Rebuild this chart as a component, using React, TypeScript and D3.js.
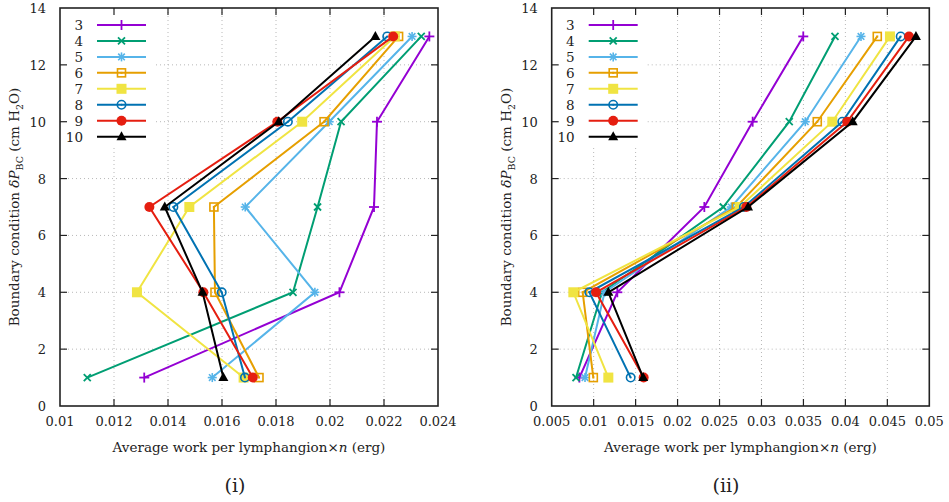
import React from "react";
import * as d3 from "d3";

const levels = [1, 4, 7, 10, 13];
const seriesNames = ["3", "4", "5", "6", "7", "8", "9", "10"];
const seriesColors = ["#9400d3", "#009e73", "#56b4e9", "#e69f00", "#f0e442", "#0072b2", "#e51e10", "#000000"];
const seriesMarkers = ["plus", "cross", "star", "osquare", "fsquare", "ocircle", "fcircle", "triangle"];

// Panel (i)
const leftN3 = [0.01312, 0.02035, 0.02163, 0.02174, 0.02368];
const leftN4 = [0.01101, 0.01863, 0.01954, 0.02041, 0.02338];
const leftN5 = [0.01564, 0.01944, 0.01686, 0.01997, 0.02304];
const leftN6 = [0.01737, 0.01574, 0.0157, 0.01978, 0.02254];
const leftN7 = [0.0168, 0.01285, 0.01479, 0.01897, 0.0224];
const leftN8 = [0.01685, 0.01599, 0.0142, 0.01844, 0.02212];
const leftN9 = [0.01714, 0.01531, 0.01331, 0.01805, 0.02234];
const leftN10 = [0.01605, 0.01528, 0.01388, 0.0181, 0.02168];

// Panel (ii)
const rightN3 = [0.0083, 0.01282, 0.02319, 0.02895, 0.03498];
const rightN4 = [0.0079, 0.011, 0.02545, 0.03331, 0.03876];
const rightN5 = [0.00897, 0.0113, 0.0264, 0.03522, 0.04186];
const rightN6 = [0.00996, 0.00869, 0.027, 0.03665, 0.0438];
const rightN7 = [0.01175, 0.00758, 0.0274, 0.03844, 0.04531];
const rightN8 = [0.01441, 0.00948, 0.0279, 0.03963, 0.04659];
const rightN9 = [0.01596, 0.01028, 0.0282, 0.04022, 0.04758];
const rightN10 = [0.0159, 0.01175, 0.0284, 0.04087, 0.04841];

const leftXTicks = [0.01, 0.012, 0.014, 0.016, 0.018, 0.02, 0.022, 0.024];
const rightXTicks = [0.005, 0.01, 0.015, 0.02, 0.025, 0.03, 0.035, 0.04, 0.045, 0.05];
const yTicks = [0, 2, 4, 6, 8, 10, 12, 14];

const FONT = '"DejaVu Serif", serif';

function Marker({ type, cx, cy, color }: { type: string; cx: number; cy: number; color: string }) {
  const s = 4.5;
  switch (type) {
    case "plus":
      return (
        <g stroke={color} strokeWidth={1.8}>
          <line x1={cx - s - 0.5} y1={cy} x2={cx + s + 0.5} y2={cy} />
          <line x1={cx} y1={cy - s - 0.5} x2={cx} y2={cy + s + 0.5} />
        </g>
      );
    case "cross":
      return (
        <g stroke={color} strokeWidth={1.8}>
          <line x1={cx - 3.5} y1={cy - 3.5} x2={cx + 3.5} y2={cy + 3.5} />
          <line x1={cx - 3.5} y1={cy + 3.5} x2={cx + 3.5} y2={cy - 3.5} />
        </g>
      );
    case "star":
      return (
        <g stroke={color} strokeWidth={1.6}>
          <line x1={cx - s} y1={cy} x2={cx + s} y2={cy} />
          <line x1={cx} y1={cy - s} x2={cx} y2={cy + s} />
          <line x1={cx - 3.3} y1={cy - 3.3} x2={cx + 3.3} y2={cy + 3.3} />
          <line x1={cx - 3.3} y1={cy + 3.3} x2={cx + 3.3} y2={cy - 3.3} />
        </g>
      );
    case "osquare":
      return (
        <g>
          <rect x={cx - 4} y={cy - 4} width={8} height={8} fill="none" stroke={color} strokeWidth={1.6} />
          <rect x={cx - 1} y={cy - 1} width={2} height={2} fill={color} />
        </g>
      );
    case "fsquare":
      return <rect x={cx - 5} y={cy - 5} width={10} height={10} fill={color} />;
    case "ocircle":
      return (
        <g>
          <circle cx={cx} cy={cy} r={4.2} fill="none" stroke={color} strokeWidth={1.6} />
          <circle cx={cx} cy={cy} r={1} fill={color} />
        </g>
      );
    case "fcircle":
      return <circle cx={cx} cy={cy} r={5} fill={color} />;
    case "triangle":
      return <path d={`M${cx},${cy - 5.5}L${cx + 5},${cy + 3.5}L${cx - 5},${cy + 3.5}Z`} fill={color} />;
    default:
      return null;
  }
}

function Panel({
  data,
  xDomain,
  xTicks,
  x0,
  x1,
  label,
  labelX,
}: {
  data: number[][];
  xDomain: [number, number];
  xTicks: number[];
  x0: number;
  x1: number;
  label: string;
  labelX: number;
}) {
  const yTop = 8;
  const yBot = 406;
  const x = d3.scaleLinear().domain(xDomain).range([x0, x1]);
  const y = d3.scaleLinear().domain([0, 14]).range([yBot, yTop]);
  const line = d3
    .line<[number, number]>()
    .x((d) => x(d[0]))
    .y((d) => y(d[1]));
  const tickLen = 7;
  const legX0 = x0 + 37;
  const legX1 = x0 + 86;
  const legRight = x0 + 23;
  const legY0 = 25;
  const legDy = 15.95;
  const midX = (x0 + x1) / 2;
  return (
    <g style={{ fontFamily: FONT }} fill="#222">
      {/* grid */}
      <g stroke="#b8b8b8" strokeWidth={1} strokeDasharray="1,3">
        {xTicks.slice(1, -1).map((t) => (
          <line key={"gx" + t} x1={x(t)} x2={x(t)} y1={yTop} y2={yBot} />
        ))}
        {yTicks.slice(1, -1).map((t) => (
          <line key={"gy" + t} x1={x0} x2={x1} y1={y(t)} y2={y(t)} />
        ))}
      </g>
      {/* legend background */}
      <rect x={x0 + 1} y={yTop + 1} width={94} height={137} fill="#fff" />
      {/* data */}
      {data.map((vals, i) => {
        const pts: [number, number][] = vals.map((v, j) => [v, levels[j]]);
        return (
          <g key={"s" + i}>
            <path d={line(pts) || ""} fill="none" stroke={seriesColors[i]} strokeWidth={2} strokeLinejoin="miter" />
            {pts.map((p, j) => (
              <Marker key={j} type={seriesMarkers[i]} cx={x(p[0])} cy={y(p[1])} color={seriesColors[i]} />
            ))}
          </g>
        );
      })}
      {/* legend */}
      {seriesNames.map((n, i) => {
        const ly = legY0 + i * legDy;
        return (
          <g key={"l" + i}>
            <text x={legRight} y={ly + 5} textAnchor="end" fontSize={13.5} fill="#222">
              {n}
            </text>
            <line x1={legX0} x2={legX1} y1={ly} y2={ly} stroke={seriesColors[i]} strokeWidth={2} />
            <Marker type={seriesMarkers[i]} cx={(legX0 + legX1) / 2} cy={ly} color={seriesColors[i]} />
          </g>
        );
      })}
      {/* frame & ticks */}
      <g stroke="#222" strokeWidth={1.2}>
        {xTicks.slice(1, -1).map((t) => (
          <g key={"tx" + t}>
            <line x1={x(t)} x2={x(t)} y1={yBot} y2={yBot - tickLen} />
            <line x1={x(t)} x2={x(t)} y1={yTop} y2={yTop + tickLen} />
          </g>
        ))}
        {yTicks.slice(1, -1).map((t) => (
          <g key={"ty" + t}>
            <line x1={x0} x2={x0 + tickLen} y1={y(t)} y2={y(t)} />
            <line x1={x1} x2={x1 - tickLen} y1={y(t)} y2={y(t)} />
          </g>
        ))}
        <rect x={x0} y={yTop} width={x1 - x0} height={yBot - yTop} fill="none" strokeWidth={1.6} />
      </g>
      {/* tick labels */}
      {xTicks.map((t) => (
        <text key={"lx" + t} x={x(t)} y={426} textAnchor="middle" fontSize={13}>
          {String(t)}
        </text>
      ))}
      {yTicks.map((t) => (
        <text key={"ly" + t} x={x0 - 14} y={y(t) + 5} textAnchor="end" fontSize={13}>
          {String(t)}
        </text>
      ))}
      {/* axis titles */}
      <text x={midX} y={452} textAnchor="middle" fontSize={13.5}>
        Average work per lymphangion×<tspan fontStyle="italic">n</tspan> (erg)
      </text>
      <text transform={`translate(${x0 - 41},${(yTop + yBot) / 2}) rotate(-90)`} textAnchor="middle" fontSize={13.5}>
        Boundary condition <tspan fontStyle="italic">δP</tspan>
        <tspan fontSize={9.5} dy={4}>BC</tspan>
        <tspan dy={-4}> (cm H</tspan>
        <tspan fontSize={9.5} dy={4}>2</tspan>
        <tspan dy={-4}>O)</tspan>
      </text>
      <text x={labelX} y={492} textAnchor="middle" fontSize={19}>
        {label}
      </text>
    </g>
  );
}

export default function App() {
  const leftData = [leftN3, leftN4, leftN5, leftN6, leftN7, leftN8, leftN9, leftN10];
  const rightData = [rightN3, rightN4, rightN5, rightN6, rightN7, rightN8, rightN9, rightN10];
  return (
    <svg
      width={949}
      height={502}
      style={{ position: "absolute", left: 0, top: 0, background: "#fff" }}
    >
      <rect width={949} height={502} fill="#fff" />
      <Panel data={leftData} xDomain={[0.01, 0.024]} xTicks={leftXTicks} x0={60} x1={438} label="(i)" labelX={235} />
      <Panel data={rightData} xDomain={[0.005, 0.05]} xTicks={rightXTicks} x0={551.7} x1={929.3} label="(ii)" labelX={726} />
    </svg>
  );
}
